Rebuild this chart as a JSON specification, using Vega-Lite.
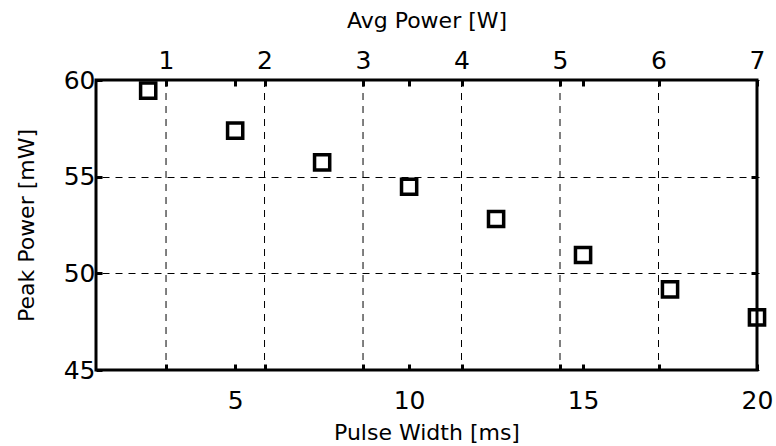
{
  "$schema": "https://vega.github.io/schema/vega-lite/v6.json",
  "width": 661,
  "height": 290,
  "autosize": "none",
  "padding": {"left": 96, "top": 80, "right": 19, "bottom": 76},
  "background": "white",
  "datasets": {
    "power": [
      {"pulse": 2.5, "peak": 59.45},
      {"pulse": 5, "peak": 57.38},
      {"pulse": 7.5, "peak": 55.74},
      {"pulse": 10, "peak": 54.48},
      {"pulse": 12.5, "peak": 52.81},
      {"pulse": 15, "peak": 50.95},
      {"pulse": 17.5, "peak": 49.17},
      {"pulse": 20, "peak": 47.72}
    ],
    "avgticks": [{"avg": 1}, {"avg": 2}, {"avg": 3}, {"avg": 4}, {"avg": 5}, {"avg": 6}]
  },
  "config": {
    "view": {"stroke": "black", "strokeWidth": 3},
    "font": "DejaVu Sans",
    "axis": {
      "domain": false,
      "ticks": true,
      "tickSize": 6,
      "offset": -6,
      "tickWidth": 3,
      "tickColor": "black",
      "labelFont": "DejaVu Sans",
      "labelFontSize": 25,
      "labelColor": "black",
      "labelFlush": false,
      "labelOverlap": false,
      "titleFont": "DejaVu Sans",
      "titleFontSize": 22,
      "titleFontWeight": "normal",
      "titleColor": "black",
      "gridColor": "black",
      "gridDash": [7, 6],
      "gridWidth": 1,
      "gridOpacity": 1
    }
  },
  "layer": [
    {
      "data": {"name": "avgticks"},
      "mark": {"type": "rule", "stroke": "black", "strokeWidth": 1, "strokeDash": [7, 6]},
      "encoding": {
        "x": {
          "field": "avg",
          "type": "quantitative",
          "scale": {"domain": [0.289, 7], "nice": false, "zero": false},
          "axis": {"orient": "top", "title": "Avg Power [W]", "values": [1, 2, 3, 4, 5, 6, 7], "grid": false, "labelPadding": 7, "titlePadding": 16}
        }
      }
    },
    {
      "data": {"name": "avgticks"},
      "mark": {"type": "rule", "opacity": 0},
      "encoding": {
        "x": {
          "field": "avg",
          "type": "quantitative",
          "scale": {"domain": [0.289, 7], "nice": false, "zero": false},
          "axis": {"orient": "bottom", "title": null, "labels": false, "values": [1, 2, 3, 4, 5, 6], "grid": false}
        }
      }
    },
    {
      "data": {"name": "power"},
      "mark": {"type": "point", "opacity": 0},
      "encoding": {
        "x": {
          "field": "pulse",
          "type": "quantitative",
          "scale": {"domain": [1, 20], "nice": false, "zero": false},
          "axis": {"orient": "top", "title": null, "labels": false, "values": [5, 10, 15], "grid": false}
        },
        "y": {
          "field": "peak",
          "type": "quantitative",
          "scale": {"domain": [45, 60], "nice": false, "zero": false},
          "axis": {"orient": "right", "title": null, "labels": false, "values": [50, 55], "grid": false}
        }
      }
    },
    {
      "data": {"name": "power"},
      "mark": {"type": "point", "shape": "square", "filled": false, "stroke": "black", "strokeWidth": 3.5, "size": 230, "opacity": 1},
      "encoding": {
        "x": {
          "field": "pulse",
          "type": "quantitative",
          "scale": {"domain": [1, 20], "nice": false, "zero": false},
          "axis": {"orient": "bottom", "title": "Pulse Width [ms]", "values": [5, 10, 15, 20], "grid": false, "labelPadding": 18, "titlePadding": 9}
        },
        "y": {
          "field": "peak",
          "type": "quantitative",
          "scale": {"domain": [45, 60], "nice": false, "zero": false},
          "axis": {"orient": "left", "title": "Peak Power [mW]", "values": [45, 50, 55, 60], "grid": true, "labelPadding": 1, "titlePadding": 25}
        }
      }
    }
  ],
  "resolve": {"scale": {"x": "independent", "y": "independent"}, "axis": {"x": "independent", "y": "independent"}}
}
